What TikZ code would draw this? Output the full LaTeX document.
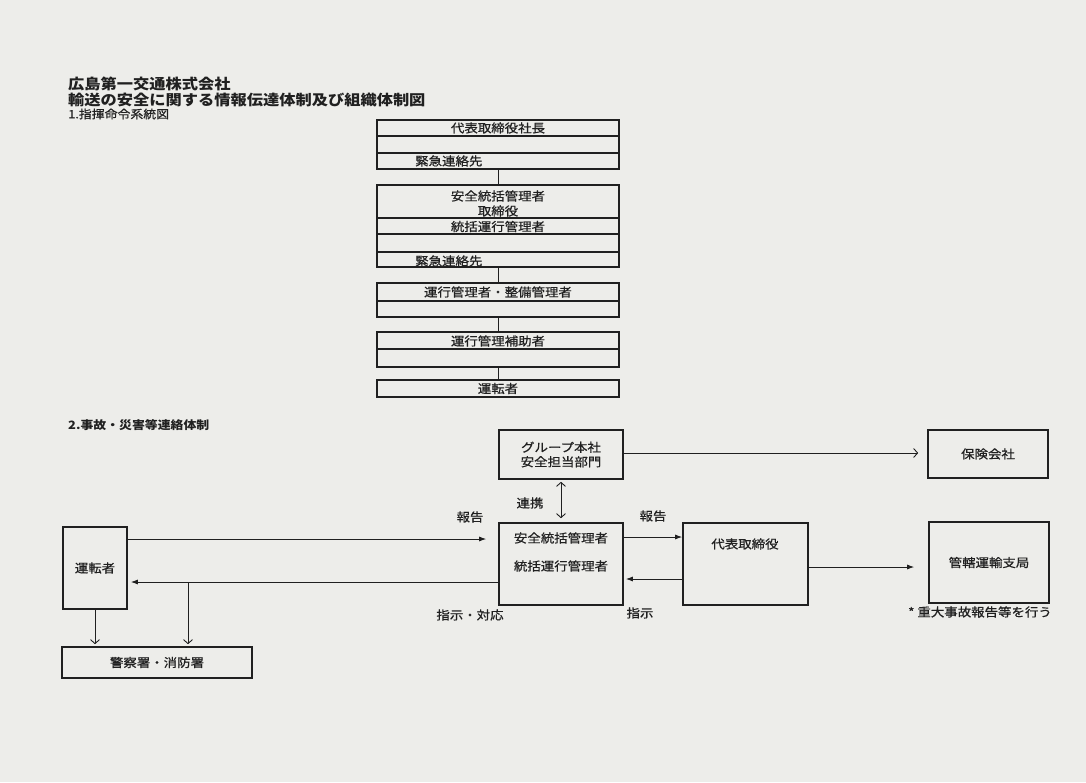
\documentclass[tikz,border=0pt]{standalone}
\usepackage{fontspec}
\setmainfont{Noto Sans CJK JP}[FakeStretch=1.12]
\newfontfamily\jpmedium{Noto Sans CJK JP}[FakeStretch=1.12, FakeBold=0.7]
\usepackage{xcolor}
\usepackage{tikz}
\usetikzlibrary{arrows.meta,positioning}
\definecolor{paper}{RGB}{237,237,234}
\definecolor{ink}{RGB}{32,32,32}

\begin{document}
\begin{tikzpicture}[
    x=1pt, y=-1pt,
    font=\jpmedium\fontsize{12}{14.5}\selectfont, text=ink,
    box/.style={draw=ink, line width=1.6pt, inner sep=0pt, align=center},
    rowline/.style={draw=ink, line width=1.1pt},
    link/.style={draw=ink, line width=0.9pt},
    arrow/.style={-{Latex[length=7pt,width=5pt]}, draw=ink, line width=0.9pt},
    openarrow/.style={-{Straight Barb[length=4pt,width=9pt]}, draw=ink, line width=0.9pt},
    twoway/.style={{Straight Barb[length=4pt,width=9pt]}-{Straight Barb[length=4pt,width=9pt]}, draw=ink, line width=0.9pt},
    lbl/.style={inner sep=0pt},
    head/.style={inner sep=0pt, anchor=west, font=\bfseries\fontsize{14.5}{16}\selectfont}
  ]
    \fill[paper] (0,0) rectangle (1086,782);

    % headings
    \node[head] (company) at (68,84) {広島第一交通株式会社};
    \node[head] (title) at (68,100) {輸送の安全に関する情報伝達体制及び組織体制図};
    \node[head, font=\jpmedium\fontsize{11.5}{13}\selectfont] (sec1) at (68,114) {1.指揮命令系統図};
    \node[head, font=\bfseries\fontsize{11.5}{13}\selectfont] (sec2) at (68,425) {2.事故・災害等連絡体制};

    % 1. chain of command
    \node[box, minimum width=242, minimum height=49] (ceo) at (498,144.5) {};
    \node[lbl] (ceoname) at (498,128) {代表取締役社長};
    \node[lbl, anchor=west] (ceocall) at (415,161) {緊急連絡先};
    \draw[rowline] (ceo.west |- 0,136) -- (ceo.east |- 0,136);
    \draw[rowline] (ceo.west |- 0,153) -- (ceo.east |- 0,153);

    \node[box, minimum width=242, minimum height=82] (safety) at (498,226) {};
    \node[lbl] (safetyname) at (498,196) {安全統括管理者};
    \node[lbl] (safetyrole) at (498,211) {取締役};
    \node[lbl] (safetyops) at (498,226.5) {統括運行管理者};
    \node[lbl, anchor=west] (safetycall) at (415,261) {緊急連絡先};
    \draw[rowline] (safety.west |- 0,218) -- (safety.east |- 0,218);
    \draw[rowline] (safety.west |- 0,234) -- (safety.east |- 0,234);
    \draw[rowline] (safety.west |- 0,252) -- (safety.east |- 0,252);

    \node[box, minimum width=242, minimum height=34] (ops) at (498,300) {};
    \node[lbl] (opsname) at (498,292) {運行管理者・整備管理者};
    \draw[rowline] (ops.west |- 0,301) -- (ops.east |- 0,301);

    \node[box, minimum width=242, minimum height=35] (assist) at (498,349.5) {};
    \node[lbl] (assistname) at (498,341) {運行管理補助者};
    \draw[rowline] (assist.west |- 0,349) -- (assist.east |- 0,349);

    \node[box, minimum width=242, minimum height=17] (drv) at (498,388.5) {運転者};

    \draw[link] (ceo) -- (safety);
    \draw[link] (safety) -- (ops);
    \draw[link] (ops) -- (assist);
    \draw[link] (assist) -- (drv);

    % 2. accident / disaster reporting
    \node[box, minimum width=64, minimum height=82] (driver) at (95,568) {運転者};
    \node[box, minimum width=190, minimum height=31] (police) at (157,662.5) {警察署・消防署};
    \node[box, minimum width=124, minimum height=49] (group) at (561,454.5) {グループ本社\\安全担当部門};
    \node[box, minimum width=124, minimum height=82] (hq) at (561,564) {};
    \node[lbl] (hqsafe) at (561,538) {安全統括管理者};
    \node[lbl] (hqops) at (561,566) {統括運行管理者};
    \node[box, minimum width=125, minimum height=82] (rep) at (745.5,564) {};
    \node[lbl] (repname) at (745,544) {代表取締役};
    \node[box, minimum width=120, minimum height=48] (insurer) at (988,454) {保険会社};
    \node[box, minimum width=120, minimum height=81] (bureau) at (989,562.5) {管轄運輸支局};

    \draw[arrow, shorten >=12pt] (driver.east |- 0,539) -- (hq.west |- 0,539);
    \node[lbl] (report1) at (470,517) {報告};
    \draw[arrow, shorten >=3pt] (hq.west |- 0,582) -- (driver.east |- 0,582);
    \coordinate (branch) at (188,582);
    \draw[openarrow, shorten >=2pt] (branch) -- (branch |- police.north);
    \draw[openarrow, shorten >=2pt] (driver.south) -- (driver.south |- police.north);
    \node[lbl] (order1) at (470,615) {指示・対応};

    \draw[twoway, shorten <=2pt, shorten >=4pt] (group) -- (hq);
    \node[lbl] (coop) at (530,503) {連携};

    \draw[arrow] (hq.east |- 0,537) -- (rep.west |- 0,537);
    \node[lbl] (report2) at (653,516) {報告};
    \draw[arrow, shorten >=2pt] (rep.west |- 0,579) -- (hq.east |- 0,579);
    \node[lbl] (order2) at (640,613) {指示};

    \draw[openarrow, shorten >=9pt] (group.east |- 0,453) -- (insurer.west |- 0,453);
    \draw[arrow, shorten >=14pt] (rep.east |- 0,567) -- (bureau.west |- 0,567);
    \node[lbl] (note) at (980,612) {* 重大事故報告等を行う};
  \end{tikzpicture}
\end{document}
